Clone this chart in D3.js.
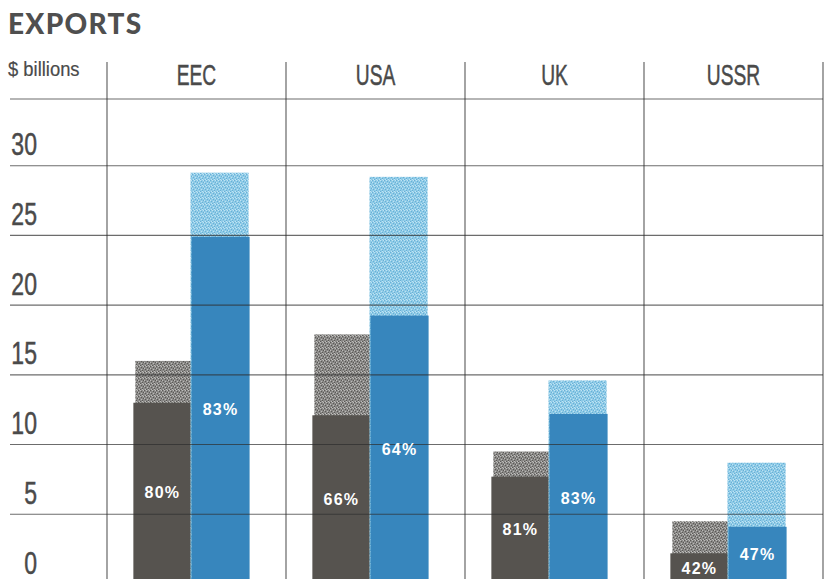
<!DOCTYPE html>
<html>
<head>
<meta charset="utf-8">
<script src="https://cdn.jsdelivr.net/npm/d3@7"></script>
<style>
  html, body { margin: 0; padding: 0; background: #ffffff; }
  svg { display: block; }
</style>
</head>
<body>
<svg id="chart" width="827" height="579"></svg>
<script>
// ---- data ----
const categories = ["EEC", "USA", "UK", "USSR"];
const greyTotal  = [16.0, 17.9, 9.5, 4.5];
const greyPart   = [13.0, 12.1, 7.7, 2.2];
const blueTotal  = [29.5, 29.2, 14.6, 8.7];
const bluePart   = [24.9, 19.25, 12.2, 4.1];
const greyPct    = ["80%", "66%", "81%", "42%"];
const bluePct    = ["83%", "64%", "83%", "47%"];
const yTicks     = [0, 5, 10, 15, 20, 25, 30];
const seriesKeys = ["grey", "blue"];
const titleText  = "EXPORTS";
const unitText   = "$ billions";

// ---- layout ----
const W = 827, H = 579;
const svg = d3.select("#chart");
const sans = "'Liberation Sans', Arial, sans-serif";

const x = d3.scaleBand().domain(categories).range([107, 823]).paddingInner(0).paddingOuter(0);
const xi = d3.scaleBand().domain(seriesKeys).range([0, x.bandwidth()])
  .paddingInner(0).paddingOuter(0.54).align(0.42);
const y = d3.scaleLinear().domain([0, 30]).range([584, 165.7]);

// condensed text helper: horizontal squeeze of a regular face
function condText(sel, px, py, str, size, sx, anchor) {
  return sel.append("text")
    .attr("transform", `translate(${px},${py}) scale(${sx},1)`)
    .attr("text-anchor", anchor || "start")
    .attr("font-family", sans).attr("font-size", size).attr("fill", "#4a4a4a")
    .attr("stroke", "#4a4a4a").attr("stroke-width", 0.5)
    .text(str);
}

// patterns (stipple textures)
const defs = svg.append("defs");
function stipple(id, bg, dark, light) {
  const p = defs.append("pattern").attr("id", id).attr("patternUnits", "userSpaceOnUse")
    .attr("width", 6).attr("height", 6);
  p.append("rect").attr("width", 6).attr("height", 6).attr("fill", bg);
  const darkDots = [[0,0],[3,1],[1,3],[4,4],[5,2],[2,5]];
  const lightDots = [[2,0],[5,0],[0,2],[3,3],[1,5],[4,5]];
  darkDots.forEach(([a,b]) => p.append("rect").attr("x", a).attr("y", b).attr("width", 1).attr("height", 1).attr("fill", dark));
  lightDots.forEach(([a,b]) => p.append("rect").attr("x", a).attr("y", b).attr("width", 1).attr("height", 1).attr("fill", light));
}
stipple("greyStip", "#8a8987", "#5a5856", "#bdbcba");
stipple("blueStip", "#8fcbe7", "#68afd6", "#bfe3f3");

// title
svg.append("text").attr("x", 8).attr("y", 34)
  .attr("font-family", "Lato, 'Open Sans', sans-serif").attr("font-weight", 900)
  .attr("font-size", 28).attr("letter-spacing", 1.3).attr("fill", "#4f4f4f").text(titleText);

// header
condText(svg, 8, 76, unitText, 20, 0.92, "start").attr("stroke-width", 0.2);
categories.forEach(c => condText(svg, x(c) + x.bandwidth() / 2, 85, c, 30, 0.64, "middle"));

// bars
const gBars = svg.append("g");
categories.forEach((c, i) => {
  const gx = x(c) + xi("grey"), bx = x(c) + xi("blue"), bw = xi.bandwidth();
  gBars.append("rect").attr("x", gx + 2).attr("width", bw).attr("y", y(greyTotal[i]))
    .attr("height", y(0) - y(greyTotal[i])).attr("fill", "url(#greyStip)");
  gBars.append("rect").attr("x", gx).attr("width", bw).attr("y", y(greyPart[i]))
    .attr("height", y(0) - y(greyPart[i])).attr("fill", "#56534f");
  gBars.append("rect").attr("x", bx - 1).attr("width", bw).attr("y", y(blueTotal[i]))
    .attr("height", y(0) - y(blueTotal[i])).attr("fill", "url(#blueStip)");
  gBars.append("rect").attr("x", bx).attr("width", bw).attr("y", y(bluePart[i]))
    .attr("height", y(0) - y(bluePart[i])).attr("fill", "#3786bd");
});

// grid lines (drawn over bars, as in the print)
const grid = svg.append("g").attr("stroke", "#2e2e2e").attr("stroke-width", 1.1);
grid.selectAll("line.h").data(yTicks).join("line").attr("class", "h")
  .attr("x1", 10).attr("x2", 823).attr("y1", d => y(d)).attr("y2", d => y(d))
  .attr("stroke-opacity", 0.7);
grid.append("line").attr("x1", 10).attr("x2", 823).attr("y1", 99).attr("y2", 99).attr("stroke-opacity", 0.7);
const dividers = categories.map(c => x(c)).concat([x.range()[1]]);
grid.selectAll("line.v").data(dividers).join("line").attr("class", "v")
  .attr("x1", d => d).attr("x2", d => d).attr("y1", 62).attr("y2", H)
  .attr("stroke-opacity", 0.8);

// y tick labels
const tickG = svg.append("g");
yTicks.forEach(t => condText(tickG, 37, y(t) - 10.5, String(t), 32, 0.72, "end"));

// percentage labels
const lab = svg.append("g").attr("font-family", sans)
  .attr("font-weight", 700).attr("font-size", 16).attr("fill", "#ffffff")
  .attr("text-anchor", "middle").attr("letter-spacing", 1.2);
categories.forEach((c, i) => {
  const bw = xi.bandwidth();
  lab.append("text").attr("x", x(c) + xi("grey") + bw / 2)
    .attr("y", (y(greyPart[i]) + y(0)) / 2 + 5).text(greyPct[i]);
  lab.append("text").attr("x", x(c) + xi("blue") + bw / 2)
    .attr("y", (y(bluePart[i]) + y(0)) / 2 + 5).text(bluePct[i]);
});
</script>
</body>
</html>
